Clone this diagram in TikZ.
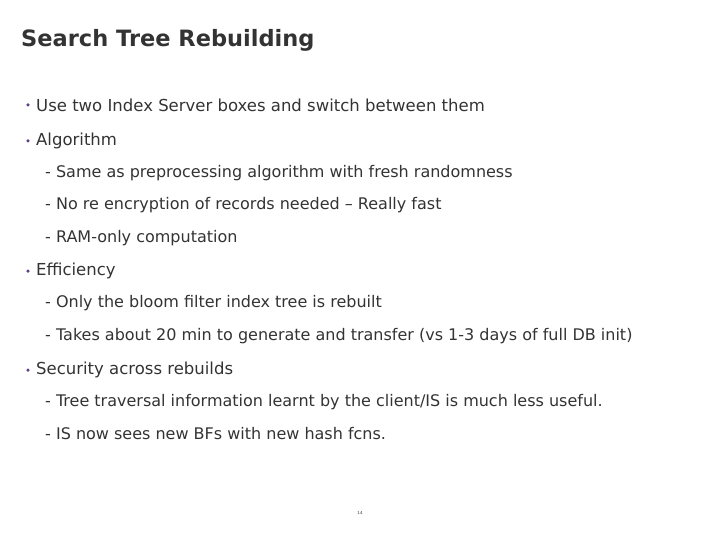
\documentclass[tikz,border=0pt]{standalone}
\usepackage{fontspec}
\setmainfont{DejaVu Sans}
\definecolor{txtgray}{HTML}{333333}
\definecolor{dotpurple}{HTML}{5B3F8C}
\tikzset{
  lvlone/.style={anchor=west, inner sep=0pt, text=txtgray, font=\fontsize{16.5}{20}\selectfont},
  lvltwo/.style={anchor=west, inner sep=0pt, text=txtgray, font=\fontsize{16}{18}\selectfont},
  dotmark/.style={circle, fill=dotpurple, inner sep=0pt, minimum size=3.5pt}
}
\begin{document}
\begin{tikzpicture}[x=1pt,y=-1pt]
\useasboundingbox (0,0) rectangle (720,540);
\node[anchor=west, inner sep=0pt, text=txtgray, font=\fontsize{22.5}{24}\bfseries\selectfont] (title) at (21,40) {Search Tree Rebuilding};
% level one items
\foreach \y/\name/\txt in {105/use/{Use two Index Server boxes and switch between them},
                           141/algo/{Algorithm},
                           271/eff/{Efficiency},
                           370/sec/{Security across rebuilds}}{
  \node[dotmark] (\name-dot) at (28,\y) {};
  \node[lvlone] (\name) at (36,\y) {\txt};
}
% level two items
\foreach \y/\name/\txt in {173/same/{Same as preprocessing algorithm with fresh randomness},
                           205/noenc/{No re encryption of records needed – Really fast},
                           238/ram/{RAM-only computation},
                           303/bloom/{Only the bloom filter index tree is rebuilt},
                           336/takes/{Takes about 20 min to generate and transfer (vs 1-3 days of full DB init)},
                           402/trav/{Tree traversal information learnt by the client/IS is much less useful.},
                           434/newbf/{IS now sees new BFs with new hash fcns.}}{
  \node[lvltwo] (\name) at (45,\y) {- \txt};
}
\node[text=txtgray, font=\fontsize{4}{5}\selectfont, inner sep=0pt] (page) at (360,513) {14};
\end{tikzpicture}
\end{document}
